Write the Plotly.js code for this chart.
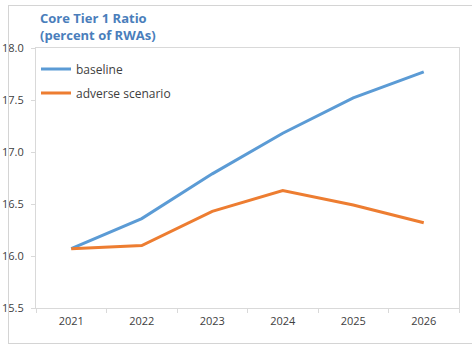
<!DOCTYPE html>
<html>
<head>
<meta charset="utf-8">
<script src="https://cdn.plot.ly/plotly-3.0.1.min.js"></script>
<style>
  html, body { margin: 0; padding: 0; background: #ffffff; }
  #wrap { position: relative; width: 472px; height: 345px; overflow: hidden; }
  #frame { position: absolute; left: 8px; top: 5px; width: 480px; height: 337px; border: 1px solid #d4d4d4; pointer-events: none; }
  #chart { position: absolute; left: 0; top: 0; width: 472px; height: 345px; }
</style>
</head>
<body>
<div id="wrap">
  <div id="chart"></div>
  <div id="frame"></div>
</div>
<script>
const years = ['2021', '2022', '2023', '2024', '2025', '2026'];
const baseline = [16.07, 16.36, 16.79, 17.18, 17.52, 17.77];
const adverse = [16.07, 16.10, 16.43, 16.63, 16.49, 16.32];
const yTicks = [15.5, 16.0, 16.5, 17.0, 17.5, 18.0];

const traces = [
  { x: years, y: baseline, type: 'scatter', mode: 'lines', name: 'baseline', legendgroup: 'a',
    line: { color: '#5b9bd5', width: 3 } },
  { x: years, y: adverse, type: 'scatter', mode: 'lines', name: 'adverse scenario', legendgroup: 'b',
    line: { color: '#ed7d31', width: 3 } }
];

const layout = {
  width: 472, height: 345,
  margin: { l: 36, r: 13, t: 48, b: 37 },
  paper_bgcolor: '#ffffff', plot_bgcolor: '#ffffff',
  font: { family: 'Open Sans, Noto Sans, sans-serif', color: '#404040', size: 11 },
  title: {
    text: '<b>Core Tier 1 Ratio<br>(percent of RWAs)</b>',
    font: { family: 'Open Sans, Noto Sans, sans-serif', size: 13, color: '#4a7ebb' },
    xref: 'container', yref: 'container', x: 40 / 472, xanchor: 'left', y: 1 - 23 / 345, yanchor: 'top'
  },
  xaxis: {
    type: 'category', range: [-0.5, years.length - 0.5], tickson: 'boundaries', ticks: 'outside', ticklen: 4, tickcolor: '#d9d9d9',
    showline: true, linecolor: '#d9d9d9', linewidth: 1, mirror: true, showgrid: false, zeroline: false,
    ticklabelstandoff: 3, fixedrange: true
  },
  yaxis: {
    range: [15.5, 18.0], tickvals: yTicks, tickformat: '.1f', ticks: 'outside', ticklen: 4, tickcolor: '#d9d9d9',
    showline: true, linecolor: '#d9d9d9', linewidth: 1, mirror: true, showgrid: false, zeroline: false,
    ticklabelstandoff: 5, fixedrange: true
  },
  showlegend: true,
  legend: {
    x: 0.0, y: 0.975, xanchor: 'left', yanchor: 'top', bgcolor: 'rgba(0,0,0,0)',
    traceorder: 'grouped', tracegroupgap: 5, itemwidth: 30,
    font: { size: 12, color: '#404040' }
  }
};

Plotly.newPlot('chart', traces, layout, { displayModeBar: false, staticPlot: true });
</script>
</body>
</html>
